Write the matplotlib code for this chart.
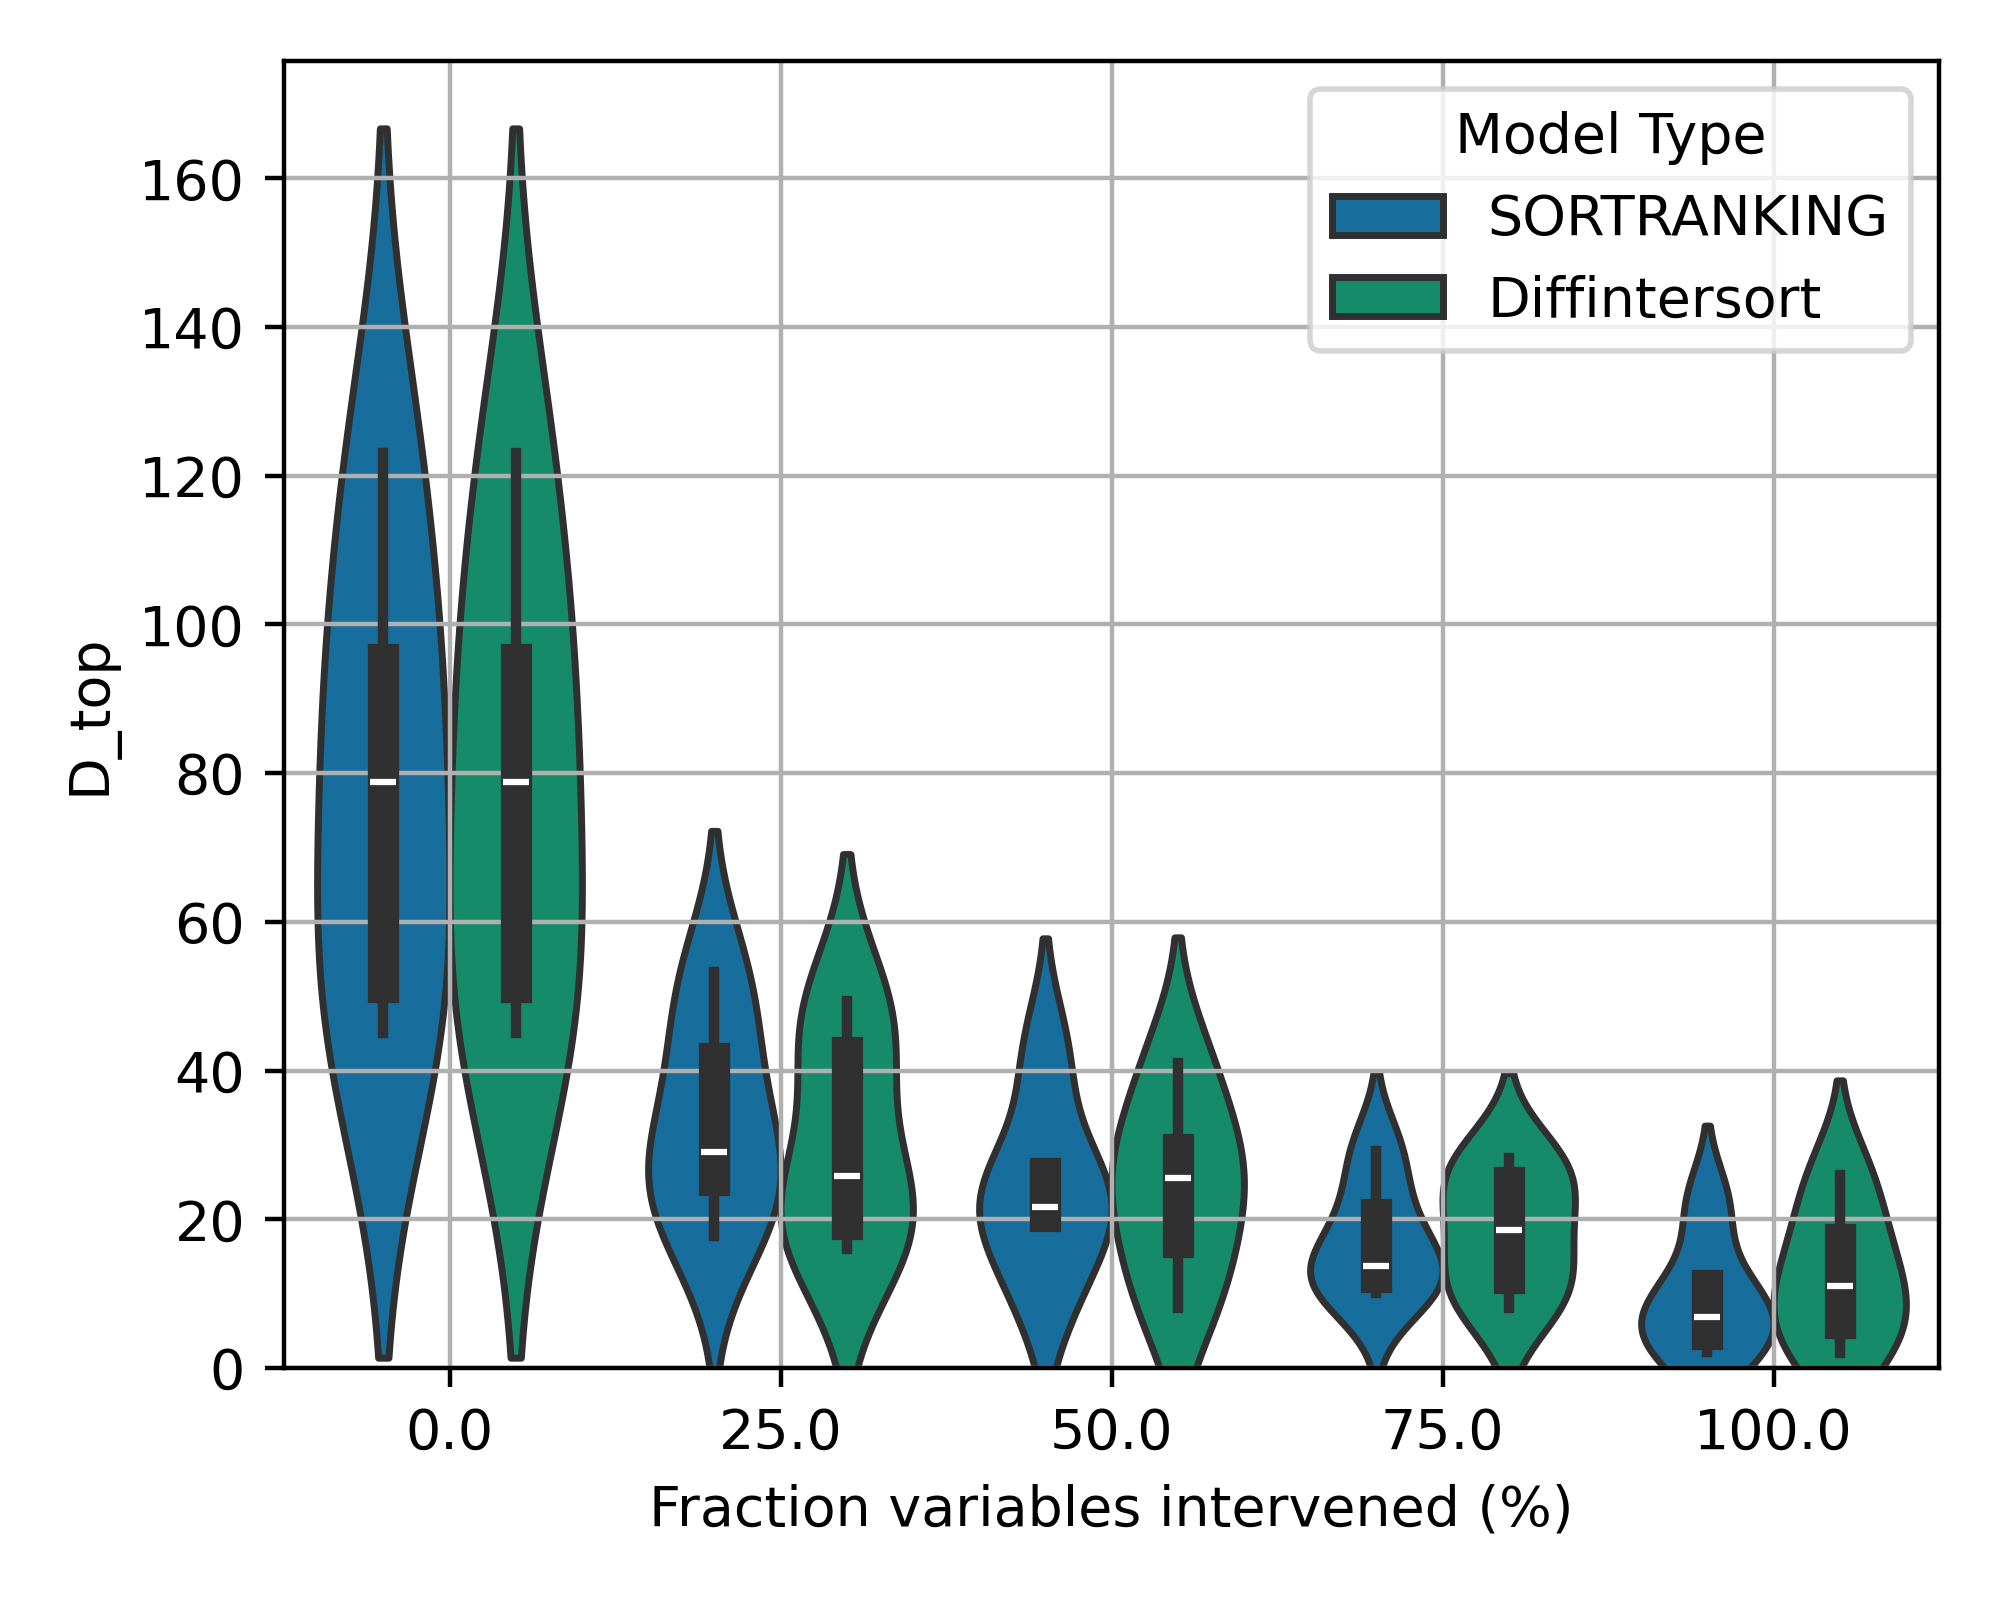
import numpy as np
import pandas as pd
import matplotlib
matplotlib.use("Agg")
import matplotlib.pyplot as plt
import seaborn as sns

# fraction of intervened variables (x categories)
fractions = [0.0, 25.0, 50.0, 75.0, 100.0]
models = ["SORTRANKING", "Diffintersort"]

# D_top per run, one list per fraction
d_top_sortranking = [
    [45.0, 51.2, 78.8, 95.4, 123.1],
    [17.8, 25.3, 29.0, 41.7, 53.2],
    [10.0, 20.5, 21.6, 26.2, 42.0],
    [10.1, 12.2, 13.7, 20.7, 29.2],
    [2.1, 4.6, 6.8, 11.1, 22.0],
]
d_top_diffintersort = [
    [45.0, 51.2, 78.8, 95.4, 123.1],
    [16.0, 19.3, 25.8, 42.5, 49.3],
    [8.1, 17.0, 25.6, 29.5, 41.0],
    [8.1, 12.1, 18.5, 25.0, 28.2],
    [2.0, 6.1, 11.0, 17.3, 25.9],
]

rows = []
for model, runs in zip(models, [d_top_sortranking, d_top_diffintersort]):
    for frac, vals in zip(fractions, runs):
        for v in vals:
            rows.append({"Fraction": frac, "D_top": v, "Model Type": model})
df = pd.DataFrame(rows)

cb = sns.color_palette("colorblind")
pal = {"SORTRANKING": cb[0], "Diffintersort": cb[2]}

fig, ax = plt.subplots(figsize=(5, 4), dpi=400)
sns.violinplot(data=df, x="Fraction", y="D_top", hue="Model Type",
               hue_order=models, palette=pal, bw_adjust=0.935,
               density_norm="width", ax=ax)
ax.grid(True)
ax.set_ylim(0, 175.8)
ax.set_xlabel("Fraction variables intervened (%)")
ax.set_ylabel("D_top")
sns.move_legend(ax, "upper right", title="Model Type")
fig.subplots_adjust(left=0.142, right=0.9695, top=0.962, bottom=0.145)
fig.savefig("out.png", dpi=400)
